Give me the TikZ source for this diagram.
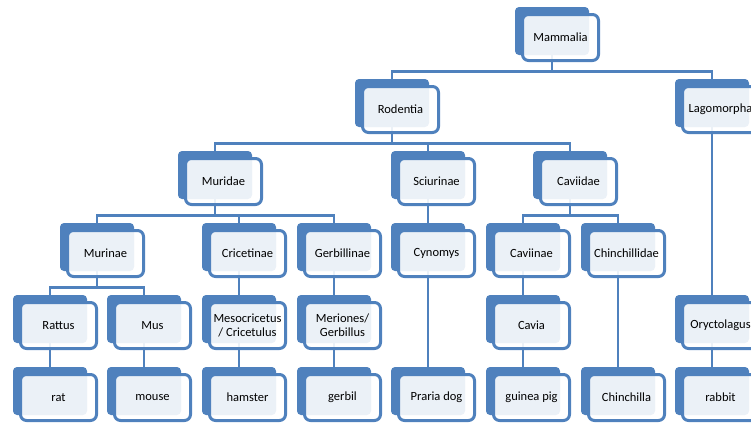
\documentclass[tikz,border=0pt]{standalone}
\usepackage{fontspec}
\setmainfont{Carlito}
\usetikzlibrary{calc}
\definecolor{taxblue}{HTML}{4F81BD}

\begin{document}
\begin{tikzpicture}[x=1pt,y=-1pt,line join=miter,
  every node/.style={font=\fontsize{12.5}{14}\selectfont},
  taxback/.style={fill=taxblue,rounded corners=4pt,minimum width=74pt,minimum height=48pt,inner sep=0pt},
  taxon/.style={draw=taxblue,line width=3pt,fill=white,fill opacity=.89,text opacity=1,
    rounded corners=6pt,minimum width=76pt,minimum height=46pt,inner sep=0pt,align=center},
  link/.style={draw=taxblue,line width=2.8pt}]
\useasboundingbox (0,0) rectangle (751,426);
\clip (0,0) rectangle (751,426);

% Back plates of the boxes, one row at a time.
\node[taxback] (mam)        at (552,31)  {};
\node[taxback] (rod)        at (392,103) {};
\node[taxback] (lag)        at (712,103) {};
\node[taxback] (mur)        at (215,175) {};
\node[taxback] (sci)        at (428,175) {};
\node[taxback] (cav)        at (570,175) {};
\node[taxback] (murin)      at (97,247)  {};
\node[taxback] (cric)       at (239,247) {};
\node[taxback] (gerb)       at (334,247) {};
\node[taxback] (cyn)        at (428,247) {};
\node[taxback] (caviin)     at (523,247) {};
\node[taxback] (chin)       at (618,247) {};
\node[taxback] (rattus)     at (50,319)  {};
\node[taxback] (mus)        at (144,319) {};
\node[taxback] (meso)       at (239,319) {};
\node[taxback] (meri)       at (334,319) {};
\node[taxback] (cavia)      at (523,319) {};
\node[taxback] (orycto)     at (712,319) {};
\node[taxback] (rat)        at (50,391)  {};
\node[taxback] (mouse)      at (144,391) {};
\node[taxback] (hamster)    at (239,391) {};
\node[taxback] (gerbil)     at (334,391) {};
\node[taxback] (prairie)    at (428,391) {};
\node[taxback] (guinea)     at (523,391) {};
\node[taxback] (chinchilla) at (618,391) {};
\node[taxback] (rabbit)     at (712,391) {};

% Branches with a common bar.
\draw[link] (mam.south) -- ++(0,16) -| (rod.north);
\draw[link] (mam.south) -- ++(0,16) -| (lag.north);
\draw[link] (rod.south) -- ++(0,16) -| (mur.north);
\draw[link] (rod.south) -- ++(0,16) -| (sci.north);
\draw[link] (rod.south) -- ++(0,16) -| (cav.north);
\draw[link] (mur.south) -- ++(0,16) -| (murin.north);
\draw[link] (mur.south) -- ++(0,16) -| (cric.north);
\draw[link] (mur.south) -- ++(0,16) -| (gerb.north);
\draw[link] (cav.south) -- ++(0,16) -| (caviin.north);
\draw[link] (cav.south) -- ++(0,16) -| (chin.north);
\draw[link] (murin.south) -- ++(0,16) -| (rattus.north);
\draw[link] (murin.south) -- ++(0,16) -| (mus.north);

% Single straight branches.
\draw[link] (lag.south) -- (orycto.north);
\draw[link] (sci.south) -- (cyn.north);
\draw[link] (cric.south) -- (meso.north);
\draw[link] (gerb.south) -- (meri.north);
\draw[link] (cyn.south) -- (prairie.north);
\draw[link] (caviin.south) -- (cavia.north);
\draw[link] (chin.south) -- (chinchilla.north);
\draw[link] (rattus.south) -- (rat.north);
\draw[link] (mus.south) -- (mouse.north);
\draw[link] (meso.south) -- (hamster.north);
\draw[link] (meri.south) -- (gerbil.north);
\draw[link] (cavia.south) -- (guinea.north);
\draw[link] (orycto.south) -- (rabbit.north);

% Front frames with the names.
\node[taxon] (mam-f)        at ($(mam)+(8.5,6.5)$)        {Mammalia};
\node[taxon] (rod-f)        at ($(rod)+(8.5,6.5)$)        {Rodentia};
\node[taxon] (lag-f)        at ($(lag)+(8.5,6.5)$)        {Lagomorpha};
\node[taxon] (mur-f)        at ($(mur)+(8.5,6.5)$)        {Muridae};
\node[taxon] (sci-f)        at ($(sci)+(8.5,6.5)$)        {Sciurinae};
\node[taxon] (cav-f)        at ($(cav)+(8.5,6.5)$)        {Caviidae};
\node[taxon] (murin-f)      at ($(murin)+(8.5,6.5)$)      {Murinae};
\node[taxon] (cric-f)       at ($(cric)+(8.5,6.5)$)       {Cricetinae};
\node[taxon] (gerb-f)       at ($(gerb)+(8.5,6.5)$)       {Gerbillinae};
\node[taxon] (cyn-f)        at ($(cyn)+(8.5,6.5)$)        {Cynomys};
\node[taxon] (caviin-f)     at ($(caviin)+(8.5,6.5)$)     {Caviinae};
\node[taxon] (chin-f)       at ($(chin)+(8.5,6.5)$)       {Chinchillidae};
\node[taxon] (rattus-f)     at ($(rattus)+(8.5,6.5)$)     {Rattus};
\node[taxon] (mus-f)        at ($(mus)+(8.5,6.5)$)        {Mus};
\node[taxon] (meso-f)       at ($(meso)+(8.5,6.5)$)       {Mesocricetus\\/ Cricetulus};
\node[taxon] (meri-f)       at ($(meri)+(8.5,6.5)$)       {Meriones/\\Gerbillus};
\node[taxon] (cavia-f)      at ($(cavia)+(8.5,6.5)$)      {Cavia};
\node[taxon] (orycto-f)     at ($(orycto)+(8.5,6.5)$)     {Oryctolagus};
\node[taxon] (rat-f)        at ($(rat)+(8.5,6.5)$)        {rat};
\node[taxon] (mouse-f)      at ($(mouse)+(8.5,6.5)$)      {mouse};
\node[taxon] (hamster-f)    at ($(hamster)+(8.5,6.5)$)    {hamster};
\node[taxon] (gerbil-f)     at ($(gerbil)+(8.5,6.5)$)     {gerbil};
\node[taxon] (prairie-f)    at ($(prairie)+(8.5,6.5)$)    {Praria dog};
\node[taxon] (guinea-f)     at ($(guinea)+(8.5,6.5)$)     {guinea pig};
\node[taxon] (chinchilla-f) at ($(chinchilla)+(8.5,6.5)$) {Chinchilla};
\node[taxon] (rabbit-f)     at ($(rabbit)+(8.5,6.5)$)     {rabbit};
\end{tikzpicture}
\end{document}
